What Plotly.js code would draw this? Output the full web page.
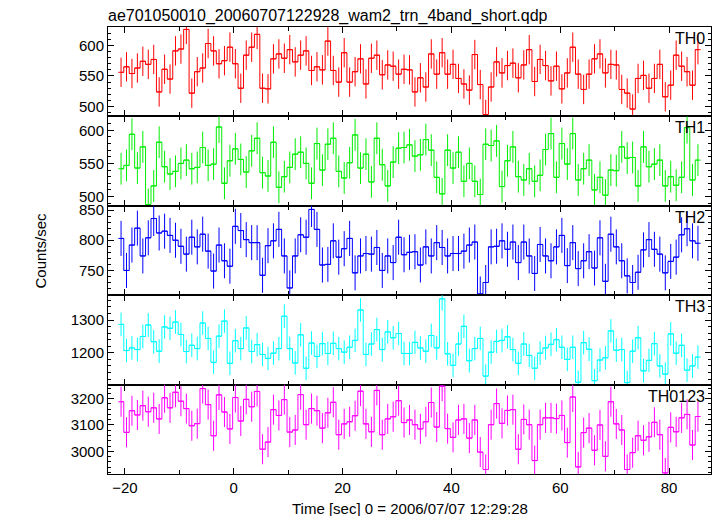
<!DOCTYPE html>
<html><head><meta charset="utf-8">
<script src="https://cdn.plot.ly/plotly-3.0.1.min.js"></script>
<style>html,body{margin:0;padding:0;background:#fff}#chart{width:717px;height:516px}</style>
</head><body><div id="chart"></div>
<script>
const timeSec = [-20.7,-19.7,-18.7,-17.7,-16.7,-15.7,-14.7,-13.7,-12.7,-11.7,-10.7,-9.7,-8.7,-7.7,-6.7,-5.7,-4.7,-3.7,-2.7,-1.7,-0.7,
0.3,1.3,2.3,3.3,4.3,5.3,6.3,7.3,8.3,9.3,10.3,11.3,12.3,13.3,14.3,15.3,16.3,17.3,18.3,19.3,20.3,21.3,22.3,23.3,24.3,25.3,26.3,27.3,28.3,29.3,
30.3,31.3,32.3,33.3,34.3,35.3,36.3,37.3,38.3,39.3,40.3,41.3,42.3,43.3,44.3,45.3,46.3,47.3,48.3,49.3,50.3,51.3,52.3,53.3,54.3,55.3,56.3,57.3,58.3,59.3,
60.3,61.3,62.3,63.3,64.3,65.3,66.3,67.3,68.3,69.3,70.3,71.3,72.3,73.3,74.3,75.3,76.3,77.3,78.3,79.3,80.3,81.3,82.3,83.3,84.3,85.3];

const th0 = [556,565,554,563,574,569,577,524,561,545, 591,594,626,522,557,563,603,591,570,575,
597,570,530,584,597,618,530,529,578,586, 579,593,573,584,591,559,565,560,607,559,
540,588,540,557,578,537,579,584,552,568, 566,553,561,560,
524,547,532,586,553,588,553,569,546,537, 527,585,536,487,532,573,555,567,571,547,
568,593,541,577,567,542,566,529,555,597, 553,528,553,578,586,555,569,568,528,522,
496,546,551,530,546,569,516,535,584,566, 557,535,593];

const th1 = [542,547,594,543,575,488,516,582,545,534, 538,550,555,542,544,574,547,549,605,520,
554,572,556,537,569,588,536,531,582,514, 530,544,564,567,550,520,580,540,579,588,
538,528,551,593,543,564,522,588,548,516, 552,573,574,578,
561,563,586,570,529,504,570,543,567,523, 550,523,503,579,577,584,515,554,575,530,
525,542,523,532,571,595,529,580,549,595, 525,542,555,510,529,502,540,539,575,558,
559,516,575,545,549,555,516,530,517,529, 604,525,555];

const th2 = [803,750,792,820,774,804,836,812,815,808, 800,790,777,805,789,810,782,749,792,766,
757,823,816,801,796,796,742,791,799,818, 774,721,774,809,805,851,818,759,760,799,
772,786,803,746,774,778,777,788,750,774, 763,805,776,780,
781,759,789,774,796,788,774,778,778,782, 792,797,711,730,789,790,799,785,797,763,
797,774,745,793,774,766,789,808,758,796, 753,766,781,754,804,732,810,789,766,741,
730,747,784,801,785,777,746,765,772,809, 819,799,795];

const th3 = [1287,1207,1215,1210,1250,1285,1234,1205,1279,1275, 1294,1256,1204,1223,1213,1291,1244,1171,1251,1297,
1168,1237,1213,1276,1204,1225,1195,1183,1199,1213, 1312,1213,1169,1255,1153,1230,1189,1228,1198,1229,
1213,1202,1217,1238,1331,1195,1227,1271,1210,1264, 1246,1259,1198,1198,
1232,1215,1205,1253,1215,1365,1197,1162,1227,1281, 1176,1213,1244,1129,1202,1235,1238,1249,1210,1168,
1227,1192,1153,1199,1215,1226,1240,1217,1180,1217, 1110,1231,1211,1115,1178,1185,1267,1208,1210,1109,
1205,1246,1145,1177,1228,1160,1135,1258,1199,1223, 1147,1160,1187];

const th0123 = [3188,3072,3154,3138,3173,3150,3165,3123,3203,3165, 3224,3190,3162,3097,3105,3238,3177,3059,3214,3149,
3085,3204,3115,3197,3169,3227,3008,3035,3158,3136, 3196,3073,3081,3215,3101,3162,3154,3088,3146,3186,
3063,3104,3112,3135,3228,3104,3074,3231,3063,3123, 3131,3192,3109,3119,
3101,3085,3112,3185,3092,3247,3086,3053,3119,3123, 3050,3119,2997,2931,3101,3181,3106,3155,3158,3008,
3121,3101,2965,3101,3127,3127,3124,3136,3033,3206, 2941,3071,3088,3004,3100,2981,3188,3104,3081,2931,
2995,3059,3042,3055,3110,3063,2918,3091,3074,3127, 3140,3024,3132];

const panelNames = ['TH0','TH1','TH2','TH3','TH0123'];
const panelColors = ['#ff0000','#00ee00','#0000ff','#00ffff','#ff00ff'];
const panelErrors = [24,24,29,36,57];
const halfBin = 0.5;
const yRanges = [[484,630],[486,621],[709,857],[1103,1376],[2914,3253]];
const yDticks = [50,50,50,100,100];
const yMinorDticks = [10,10,10,20,20];
const xRange = [-23.1, 87.7];
const xDtick = 20, xMinorDtick = 10;
const series = [th0, th1, th2, th3, th0123];
const titleText = 'ae701050010_20060707122928_wam2_trn_4band_short.qdp';
const xTitle = 'Time [sec] 0 = 2006/07/07 12:29:28';
const yTitle = 'Counts/sec';

const FONT = 'Liberation Sans, Arial, Helvetica, sans-serif';
const traces = [];
const layout = {
  width: 717, height: 516,
  margin: {l: 108, r: 6, t: 27, b: 42},
  paper_bgcolor: '#fff', plot_bgcolor: '#fff',
  showlegend: false,
  font: {family: FONT, size: 15, color: '#000'},
  title: {text: titleText, x: 108/717, xanchor: 'left', xref: 'container', y: 1 - 15/516, yanchor: 'middle', yref: 'container', font: {family: FONT, size: 16, color: '#000'}},
  annotations: []
};
const n = series.length;
series.forEach((vals, k) => {
  const xs = k === 0 ? 'x' : 'x' + (k + 1);
  const ys = k === 0 ? 'y' : 'y' + (k + 1);
  const xk = k === 0 ? 'xaxis' : 'xaxis' + (k + 1);
  const yk = k === 0 ? 'yaxis' : 'yaxis' + (k + 1);
  traces.push({
    type: 'scatter', mode: 'lines', x: timeSec, y: vals, xaxis: xs, yaxis: ys,
    line: {shape: 'hvh', color: panelColors[k], width: 1},
    error_y: {type: 'constant', value: panelErrors[k], width: 0, thickness: 1, color: panelColors[k]},
    error_x: {type: 'constant', value: halfBin, width: 0, thickness: 1, color: panelColors[k]},
    hoverinfo: 'skip'
  });
  layout[xk] = {
    domain: [0, 1], anchor: ys, range: xRange, dtick: xDtick, tick0: 0,
    ticks: 'inside', ticklen: 6, tickcolor: '#000',
    minor: {dtick: xMinorDtick, ticks: 'inside', ticklen: 4, tickcolor: '#000'},
    showticklabels: k === n - 1, tickfont: {family: FONT, size: 15},
    showline: true, mirror: 'ticks', linecolor: '#000', linewidth: 1,
    showgrid: false, zeroline: false
  };
  if (k > 0) layout[xk].matches = 'x';
  layout[yk] = {
    domain: [1 - (k + 1) / n, 1 - k / n], anchor: xs, range: yRanges[k],
    dtick: yDticks[k], tick0: 0, ticks: 'inside', ticklen: 6, tickcolor: '#000',
    minor: {dtick: yMinorDticks[k], ticks: 'inside', ticklen: 3, tickcolor: '#000'},
    tickfont: {family: FONT, size: 15},
    showline: true, mirror: 'ticks', linecolor: '#000', linewidth: 1,
    showgrid: false, zeroline: false
  };
  layout.annotations.push({
    text: panelNames[k], xref: xs + ' domain', yref: ys + ' domain', x: 0.993, y: 1,
    xanchor: 'right', yanchor: 'top', yshift: -1, showarrow: false,
    font: {family: FONT, size: 16, color: '#000'}
  });
});
layout.annotations.push({
  text: xTitle, xref: 'paper', yref: 'paper', x: 0.5, y: 0, xanchor: 'center', yanchor: 'middle',
  yshift: -34, showarrow: false, font: {family: FONT, size: 15, color: '#000'}
});
layout.annotations.push({
  text: yTitle, xref: 'paper', yref: 'paper', x: 0, y: 0.5, xanchor: 'center', yanchor: 'middle',
  xshift: -68, textangle: -90, showarrow: false, font: {family: FONT, size: 15, color: '#000'}
});
Plotly.newPlot('chart', traces, layout, {displayModeBar: false, staticPlot: true});
</script></body></html>
